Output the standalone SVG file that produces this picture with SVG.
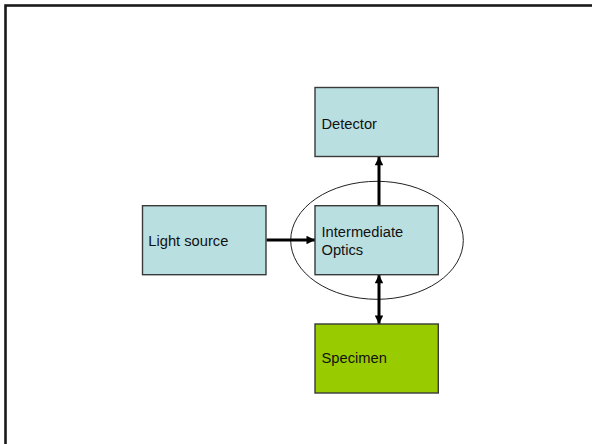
<svg xmlns="http://www.w3.org/2000/svg" width="592" height="444" viewBox="0 0 592 444">
<defs>
<style>
.box{stroke:#3a3a3a;stroke-width:1.4}
.blue{fill:#BADFE1}
.green{fill:#99CC00}
.lbl{font-family:"Liberation Sans",Arial,sans-serif;font-size:14.7px;fill:#111}
.conn{stroke:#000;stroke-width:3;fill:none}
</style>
<marker id="ah" viewBox="0 0 10 10" refX="10" refY="5" markerWidth="9" markerHeight="8.5" markerUnits="userSpaceOnUse" orient="auto-start-reverse">
<path d="M0,0 L10,5 L0,10 z" fill="#000"/>
</marker>
</defs>
<rect x="0" y="0" width="592" height="444" fill="#fff"/>
<rect x="5.5" y="5.5" width="600" height="450" fill="none" stroke="#1a1a1a" stroke-width="2.6"/>
<g id="optics-ellipse">
<ellipse cx="377" cy="240.3" rx="86.3" ry="59" fill="none" stroke="#222" stroke-width="1"/>
</g>
<g id="connectors">
<line class="conn" x1="266.5" y1="240" x2="315" y2="240" marker-end="url(#ah)"/>
<line class="conn" x1="379" y1="205.5" x2="379" y2="156.8" marker-end="url(#ah)"/>
<line class="conn" x1="379" y1="274.8" x2="379" y2="324" marker-start="url(#ah)" marker-end="url(#ah)"/>
</g>
<g id="detector">
<rect class="box blue" x="315" y="87.5" width="123.3" height="69"/>
<text class="lbl" x="321.5" y="128.5">Detector</text>
</g>
<g id="light-source">
<rect class="box blue" x="142.5" y="205.7" width="123.5" height="69"/>
<text class="lbl" x="148.3" y="245.5">Light source</text>
</g>
<g id="intermediate-optics">
<rect class="box blue" x="315" y="205.7" width="123.3" height="69"/>
<text class="lbl" x="321.5" y="236.5">Intermediate</text>
<text class="lbl" x="321.5" y="254.8">Optics</text>
</g>
<g id="specimen">
<rect class="box green" x="315" y="324" width="123.3" height="69"/>
<text class="lbl" x="321.5" y="363.3">Specimen</text>
</g>
</svg>
